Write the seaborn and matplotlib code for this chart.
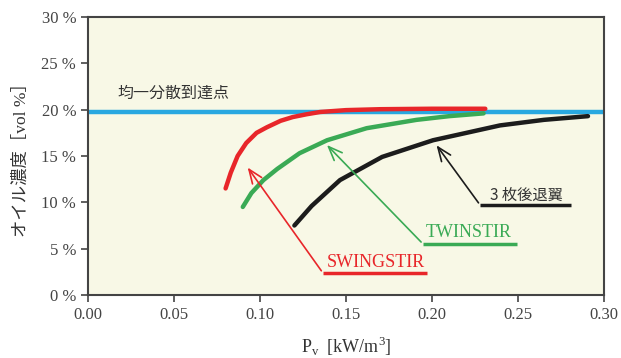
import numpy as np
import pandas as pd
import seaborn as sns
import matplotlib.pyplot as plt

# curves
swing_x = [0.080, 0.083, 0.087, 0.092, 0.098, 0.104, 0.112, 0.119, 0.127, 0.135, 0.150, 0.170, 0.200, 0.231]
swing_y = [11.5, 13.2, 15.0, 16.4, 17.5, 18.1, 18.8, 19.2, 19.5, 19.75, 19.95, 20.05, 20.1, 20.1]

twin_x = [0.090, 0.095, 0.102, 0.110, 0.123, 0.139, 0.162, 0.191, 0.210, 0.230]
twin_y = [9.5, 11.0, 12.4, 13.6, 15.3, 16.7, 18.0, 18.9, 19.3, 19.6]

three_x = [0.120, 0.130, 0.1465, 0.171, 0.2006, 0.2395, 0.265, 0.2907]
three_y = [7.5, 9.6, 12.4, 14.9, 16.7, 18.3, 18.9, 19.3]

uniform_level = 19.75

series_names = ["SWINGSTIR", "TWINSTIR", "3枚後退翼"]
series_colors = ["#e8262a", "#3aaa55", "#1c1c1c"]

# annotation geometry (arrow tip, underline start, underline end, label centre)
arrow_tips = [(0.0919, 14.0), (0.1378, 16.4), (0.2017, 16.4)]
underline_start = [(0.1366, 2.37), (0.1948, 5.5), (0.228, 9.7)]
underline_end = [0.197, 0.2494, 0.281]
label_pos = [(0.1675, 3.5), (0.2215, 6.75), (0.2547, 10.8)]

xticks = [0.00, 0.05, 0.10, 0.15, 0.20, 0.25, 0.30]
yticks = [0, 5, 10, 15, 20, 25, 30]

df = pd.concat([
    pd.DataFrame({"Pv": swing_x, "oil": swing_y, "type": series_names[0]}),
    pd.DataFrame({"Pv": twin_x, "oil": twin_y, "type": series_names[1]}),
    pd.DataFrame({"Pv": three_x, "oil": three_y, "type": series_names[2]}),
])

sns.set_style("ticks")
plt.rcParams["font.family"] = ["Liberation Serif", "Noto Sans CJK JP", "DejaVu Sans"]
plt.rcParams["mathtext.fontset"] = "custom"
plt.rcParams["mathtext.rm"] = "Liberation Serif"

fig = plt.figure(figsize=(6.21, 3.58), dpi=100)
ax = fig.add_axes([0.1417, 0.176, 0.8309, 0.7765])
ax.set_facecolor("#f8f8e6")

ax.axhline(uniform_level, color="#29a8e0", lw=3.2, zorder=2)

sns.lineplot(data=df, x="Pv", y="oil", hue="type", palette=dict(zip(series_names, series_colors)),
             lw=3.2, legend=False, sort=False, ax=ax, zorder=3)
for l in ax.lines[1:]:
    l.set_solid_capstyle("round")

ax.text(0.0169, 21.8, "均一分散到達点", family="Noto Sans CJK JP", fontsize=11.5,
        color="#333333", va="center", ha="left")

for name, col, tip, st, en, lp in zip(series_names, series_colors, arrow_tips,
                                     underline_start, underline_end, label_pos):
    ax.annotate("", xy=tip, xytext=st,
                arrowprops=dict(arrowstyle="->,head_length=1.0,head_width=0.4", color=col, lw=1.2))
    ax.plot([st[0], en], [st[1], st[1]], color=col, lw=2.5, solid_capstyle="butt")
    if name == "3枚後退翼":
        ax.text(lp[0], lp[1], "3 枚後退翼", family="Noto Sans CJK JP", fontsize=11,
                color="#333333", ha="center", va="center")
    else:
        ax.text(lp[0], lp[1], name, fontsize=13, color=col, ha="center", va="center")

ax.set_xlim(0, 0.30)
ax.set_ylim(0, 30)
ax.set_xticks(xticks)
ax.set_xticklabels([f"{v:.2f}" for v in xticks])
ax.set_yticks(yticks)
ax.set_yticklabels([f"{v} %" for v in yticks])
ax.tick_params(labelsize=12, colors="#444444", length=5, width=1.2, labelcolor="#444444")

for s in ax.spines.values():
    s.set_color("#444444")
    s.set_linewidth(1.5)

ax.set_xlabel("P$_\\mathregular{v}$  [kW/m$^\\mathregular{3}$]", fontsize=13, color="#333333", labelpad=9)
ax.set_ylabel("オイル濃度［vol %］", fontsize=12.5, color="#333333", labelpad=8)

fig.savefig("out.png", dpi=100)
